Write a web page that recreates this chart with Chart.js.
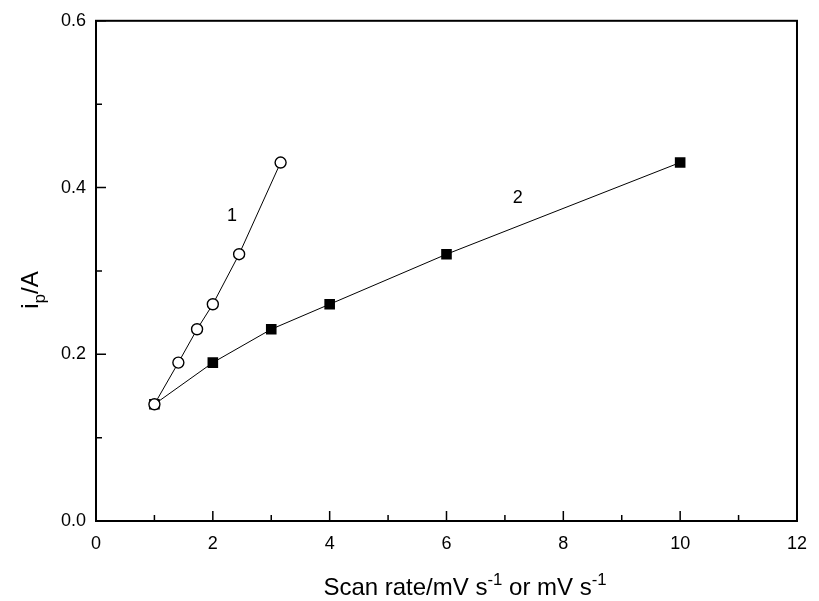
<!DOCTYPE html>
<html>
<head>
<meta charset="utf-8">
<script src="https://cdn.jsdelivr.net/npm/chart.js@4"></script>
<style>
  html, body { margin: 0; padding: 0; background: #fff; }
  #wrap { width: 819px; height: 601px; }
</style>
</head>
<body>
<div id="wrap"><canvas id="myChart" width="819" height="601"></canvas></div>
<script>
// curve 1: open circles, curve 2: filled squares
const xCurve1 = [1, 1.41, 1.73, 2, 2.45, 3.16];
const yCurve1 = [0.14, 0.19, 0.23, 0.26, 0.32, 0.43];
const xCurve2 = [1, 2, 3, 4, 6, 10];
const yCurve2 = [0.14, 0.19, 0.23, 0.26, 0.32, 0.43];

const xMajor = [0, 2, 4, 6, 8, 10, 12];
const xMinor = [1, 3, 5, 7, 9, 11];
const yMajor = [0, 0.2, 0.4, 0.6];
const yMinor = [0.1, 0.3, 0.5];

// curve labels, placed in data units
const curveLabels = [
  { text: '1', x: 2.33, y: 0.366 },
  { text: '2', x: 7.22, y: 0.388 }
];

const FONT = 'Arial, "Liberation Sans", sans-serif';

function toPoints(xs, ys) {
  return xs.map((x, i) => ({ x: x, y: ys[i] }));
}

// draw text with a superscript/subscript part
function drawParts(ctx, parts, x, y, size, align) {
  let total = 0;
  parts.forEach(p => {
    ctx.font = (p.sup || p.sub ? size * 0.7 : size) + 'px ' + FONT;
    total += ctx.measureText(p.t).width;
  });
  let cx = align === 'center' ? x - total / 2 : x;
  parts.forEach(p => {
    const s = p.sup || p.sub ? size * 0.7 : size;
    ctx.font = s + 'px ' + FONT;
    let dy = 0;
    if (p.sup) dy = -size * 0.42;
    if (p.sub) dy = size * 0.3;
    ctx.fillText(p.t, cx, y + dy);
    cx += ctx.measureText(p.t).width;
  });
}

const framePlugin = {
  id: 'frame',
  afterDraw(chart) {
    const ctx = chart.ctx;
    const a = chart.chartArea;
    const xs = chart.scales.x;
    const ys = chart.scales.y;
    ctx.save();
    ctx.strokeStyle = '#000';
    ctx.lineWidth = 2;
    ctx.strokeRect(a.left, a.top, a.right - a.left, a.bottom - a.top);

    // inward ticks
    ctx.lineWidth = 1.5;
    ctx.beginPath();
    xMajor.forEach(v => {
      const px = xs.getPixelForValue(v);
      ctx.moveTo(px, a.bottom); ctx.lineTo(px, a.bottom - 10);
    });
    xMinor.forEach(v => {
      const px = xs.getPixelForValue(v);
      ctx.moveTo(px, a.bottom); ctx.lineTo(px, a.bottom - 6);
    });
    yMajor.forEach(v => {
      const py = ys.getPixelForValue(v);
      ctx.moveTo(a.left, py); ctx.lineTo(a.left + 10, py);
    });
    yMinor.forEach(v => {
      const py = ys.getPixelForValue(v);
      ctx.moveTo(a.left, py); ctx.lineTo(a.left + 6, py);
    });
    ctx.stroke();

    ctx.fillStyle = '#000';
    ctx.textBaseline = 'middle';
    ctx.textAlign = 'left';
    curveLabels.forEach(l => {
      ctx.font = '18px ' + FONT;
      const t = ctx.measureText(l.text).width;
      ctx.fillText(l.text, xs.getPixelForValue(l.x) - t / 2, ys.getPixelForValue(l.y));
    });

    // x axis title
    ctx.textBaseline = 'alphabetic';
    drawParts(ctx, [
      { t: 'Scan rate/mV s' }, { t: '-1', sup: true },
      { t: ' or mV s' }, { t: '-1', sup: true }
    ], 465, 595, 24, 'center');

    // y axis title, rotated
    ctx.translate(38, 290);
    ctx.rotate(-Math.PI / 2);
    drawParts(ctx, [{ t: 'i' }, { t: 'p', sub: true }, { t: '/A' }], 0, 0, 24, 'center');
    ctx.restore();
  }
};

const ctx = document.getElementById('myChart');

new Chart(ctx, {
  type: 'scatter',
  data: {
    datasets: [{
      label: '1',
      data: toPoints(xCurve1, yCurve1),
      showLine: true,
      borderColor: '#000',
      borderWidth: 1,
      pointStyle: 'circle',
      pointRadius: 5.5,
      pointBorderWidth: 1.4,
      pointBackgroundColor: '#fff',
      pointBorderColor: '#000',
      order: 1
    }, {
      label: '2',
      data: toPoints(xCurve2, yCurve2),
      showLine: true,
      borderColor: '#000',
      borderWidth: 1,
      pointStyle: 'rect',
      pointRadius: 7.5,
      pointBorderWidth: 0,
      pointBackgroundColor: '#000',
      pointBorderColor: '#000',
      order: 2
    }]
  },
  options: {
    responsive: false,
    animation: false,
    layout: { padding: { top: 19, right: 13, left: 0, bottom: 0 } },
    plugins: {
      legend: { display: false },
      tooltip: { enabled: false }
    },
    scales: {
      x: {
        type: 'linear',
        min: 0, max: 12,
        border: { display: false },
        grid: { display: false, drawTicks: false },
        ticks: {
          stepSize: 2,
          padding: 12,
          color: '#000',
          font: { family: FONT, size: 18 }
        },
        afterFit(scale) { scale.height = 80; }
      },
      y: {
        type: 'linear',
        min: 0, max: 0.6,
        border: { display: false },
        grid: { display: false, drawTicks: false },
        ticks: {
          stepSize: 0.2,
          padding: 10,
          color: '#000',
          font: { family: FONT, size: 18 },
          callback: v => v.toFixed(1)
        },
        afterFit(scale) { scale.width = 96; }
      }
    }
  },
  plugins: [framePlugin]
});
</script>
</body>
</html>
